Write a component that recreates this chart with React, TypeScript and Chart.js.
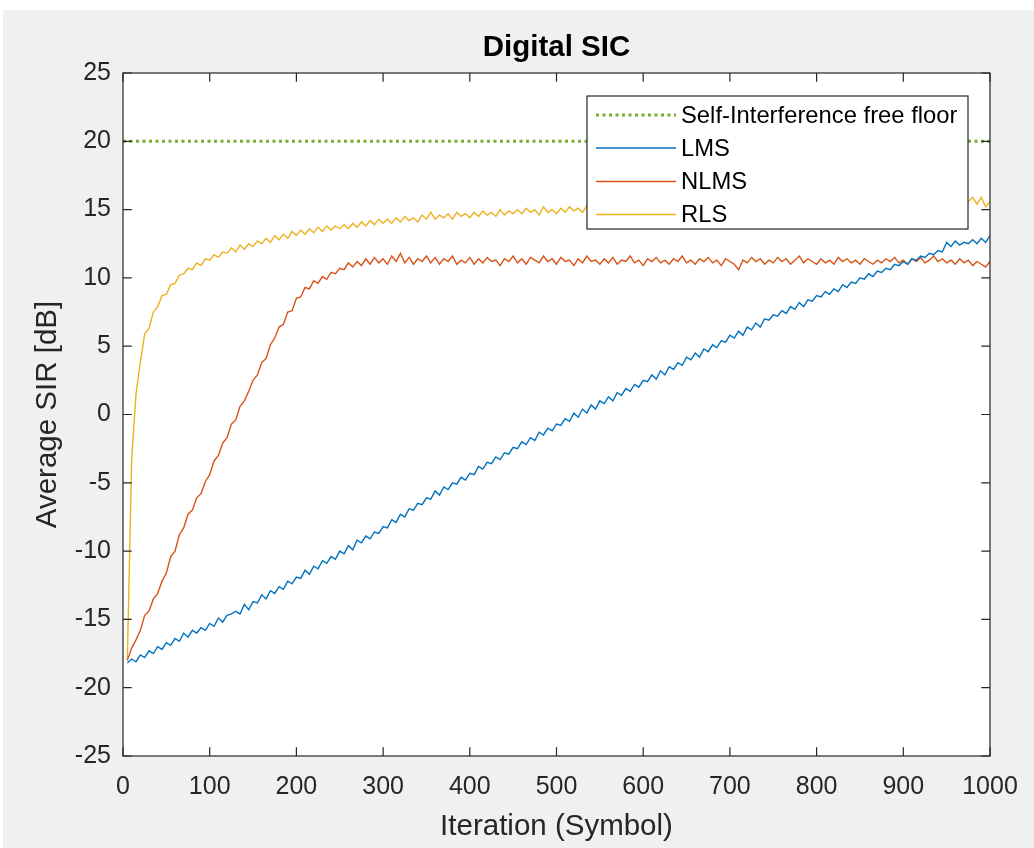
import React, { useEffect, useRef } from "react";
import { Chart, registerables } from "chart.js";

Chart.register(...registerables);

// ---- data ----
const ITER_STEP = 5; // samples every 5 iterations: 5, 10, ..., 1000
const FLOOR_DB = 20;

const LMS_DB = [
  -18.2, -17.9, -18.1, -17.6, -17.8, -17.3, -17.5, -17.0, -17.2, -16.7,
  -16.9, -16.4, -16.6, -16.0, -16.3, -15.8, -16.0, -15.6, -15.8, -15.3,
  -15.5, -14.9, -15.2, -14.7, -14.6, -14.4, -14.6, -13.9, -14.3, -13.7,
  -13.8, -13.2, -13.5, -12.9, -13.1, -12.6, -12.8, -12.2, -12.4, -11.9,
  -12.0, -11.4, -11.7, -11.1, -11.3, -10.7, -10.9, -10.4, -10.6, -10.0,
  -10.2, -9.6, -9.9, -9.2, -9.4, -8.9, -9.1, -8.6, -8.7, -8.2,
  -8.3, -7.7, -7.9, -7.3, -7.5, -6.9, -7.0, -6.5, -6.6, -6.1,
  -6.2, -5.6, -5.9, -5.3, -5.5, -5.0, -5.1, -4.6, -4.8, -4.3,
  -4.4, -3.8, -4.0, -3.5, -3.6, -3.1, -3.3, -2.8, -2.9, -2.4,
  -2.5, -2.0, -2.2, -1.7, -1.9, -1.3, -1.5, -1.0, -1.2, -0.7,
  -0.8, -0.3, -0.5, 0.1, -0.2, 0.4, 0.1, 0.7, 0.4, 1.0,
  0.8, 1.3, 1.0, 1.6, 1.4, 1.9, 1.7, 2.2, 2.0, 2.5,
  2.4, 2.9, 2.6, 3.2, 2.9, 3.5, 3.3, 3.8, 3.6, 4.2,
  4.0, 4.5, 4.2, 4.8, 4.6, 5.1, 4.9, 5.4, 5.3, 5.8,
  5.6, 6.1, 5.8, 6.4, 6.2, 6.7, 6.4, 7.0, 6.9, 7.3,
  7.2, 7.6, 7.4, 7.9, 7.7, 8.2, 7.9, 8.4, 8.3, 8.7,
  8.6, 9.0, 8.8, 9.2, 9.0, 9.5, 9.3, 9.7, 9.6, 10.0,
  9.9, 10.3, 10.1, 10.5, 10.4, 10.7, 10.6, 11.0, 10.9, 11.2,
  11.0, 11.4, 11.3, 11.6, 11.5, 11.8, 11.7, 12.0, 11.9, 12.6,
  12.3, 12.7, 12.4, 12.6, 12.5, 12.8, 12.5, 12.9, 12.6, 13.1,
];

const NLMS_DB = [
  -18.0, -17.1, -16.5, -15.8, -14.7, -14.4, -13.5, -13.1, -12.2, -11.6,
  -10.4, -10.0, -8.8, -8.3, -7.3, -7.0, -6.1, -5.8, -4.9, -4.4,
  -3.4, -3.0, -2.1, -1.7, -0.7, -0.4, 0.6, 1.0, 1.7, 2.5,
  2.9, 3.8, 4.1, 5.1, 5.6, 6.4, 6.6, 7.5, 7.6, 8.5,
  8.6, 9.3, 9.2, 9.8, 9.6, 10.1, 9.9, 10.4, 10.3, 10.7,
  10.6, 11.1, 10.8, 11.2, 10.9, 11.4, 11.0, 11.5, 11.1, 11.4,
  11.0, 11.6, 11.2, 11.8, 11.1, 11.5, 11.0, 11.4, 11.2, 11.6,
  11.1, 11.5, 11.0, 11.4, 11.2, 11.6, 11.0, 11.3, 11.1, 11.5,
  11.0, 11.4, 11.1, 11.5, 11.2, 11.3, 10.9, 11.4, 11.2, 11.6,
  11.1, 11.4, 11.0, 11.5, 11.3, 11.1, 11.6, 11.2, 11.4, 11.0,
  11.5, 11.2, 11.3, 10.9, 11.4, 11.1, 11.6, 11.2, 11.3, 11.0,
  11.4, 11.1, 11.5, 11.0, 11.3, 11.2, 11.6, 11.1, 11.3, 10.9,
  11.4, 11.2, 11.5, 11.1, 11.3, 11.0, 11.4, 11.2, 11.6, 11.1,
  11.3, 11.0, 11.4, 11.2, 11.5, 11.1, 11.3, 10.9, 11.4, 11.2,
  11.0, 10.6, 11.3, 11.1, 11.5, 11.2, 11.4, 11.0, 11.3, 11.1,
  11.5, 11.2, 11.4, 11.0, 11.3, 11.6, 11.1, 11.4, 11.2, 11.0,
  11.4, 11.1, 11.3, 11.0, 11.5, 11.2, 11.4, 11.1, 11.3, 11.0,
  11.4, 11.2, 11.0, 11.3, 11.1, 11.4, 11.2, 11.5, 11.1, 11.3,
  11.0, 11.4, 11.2, 11.5, 11.1, 11.3, 11.6, 11.2, 11.4, 11.1,
  11.3, 11.0, 11.4, 11.1, 11.3, 10.9, 11.2, 11.0, 10.8, 11.2,
];

const RLS_DB = [
  -18.0, -3.3, 1.5, 3.8, 5.9, 6.3, 7.5, 7.9, 8.7, 8.8,
  9.5, 9.6, 10.2, 10.3, 10.7, 10.6, 11.1, 10.9, 11.4, 11.3,
  11.7, 11.5, 11.9, 11.8, 12.2, 11.9, 12.4, 12.1, 12.5, 12.3,
  12.7, 12.5, 12.9, 12.6, 13.1, 12.8, 13.2, 12.9, 13.4, 13.1,
  13.5, 13.2, 13.6, 13.3, 13.7, 13.4, 13.8, 13.5, 13.8, 13.6,
  13.9, 13.6, 14.0, 13.7, 14.1, 13.8, 14.2, 13.9, 14.3, 14.0,
  14.3, 14.0, 14.4, 14.1, 14.5, 14.2, 14.4, 14.1, 14.6, 14.3,
  14.8, 14.3, 14.6, 14.4, 14.7, 14.3, 14.8, 14.5, 14.7, 14.4,
  14.8, 14.5, 14.9, 14.6, 14.8, 14.5, 15.0, 14.6, 14.9, 14.7,
  15.0, 14.7, 15.1, 14.8, 15.0, 14.6, 15.2, 14.8, 15.0, 14.7,
  15.1, 14.8, 15.2, 14.9, 15.1, 14.8, 15.3, 14.9, 15.1, 14.8,
  15.2, 14.9, 15.3, 15.0, 15.2, 14.9, 15.3, 15.0, 15.2, 15.0,
  15.3, 15.0, 15.3, 15.1, 15.4, 15.0, 15.3, 15.1, 15.4, 15.1,
  15.4, 15.1, 15.4, 15.2, 15.5, 15.1, 15.4, 15.2, 15.5, 15.2,
  15.5, 15.2, 15.5, 15.3, 15.6, 15.2, 15.5, 15.3, 15.6, 15.3,
  15.5, 15.3, 15.6, 15.3, 15.5, 15.2, 15.6, 15.3, 15.5, 15.3,
  15.6, 15.3, 15.5, 15.4, 15.7, 15.3, 15.6, 15.4, 15.6, 15.3,
  15.6, 15.4, 15.7, 15.3, 15.6, 15.4, 15.7, 15.4, 15.6, 15.3,
  15.7, 15.4, 15.6, 15.4, 15.7, 15.3, 15.6, 15.5, 15.7, 15.4,
  15.6, 15.4, 15.7, 15.5, 15.6, 15.9, 15.4, 15.9, 15.2, 15.6,
];

const X_TICKS = [0, 100, 200, 300, 400, 500, 600, 700, 800, 900, 1000];
const Y_TICKS = [-25, -20, -15, -10, -5, 0, 5, 10, 15, 20, 25];
const SERIES_LABELS = ["Self-Interference free floor", "LMS", "NLMS", "RLS"];
const SERIES_COLORS = ["#77AC30", "#0072BD", "#D95319", "#EDB120"];
const TITLE = "Digital SIC";
const X_TITLE = "Iteration (Symbol)";
const Y_TITLE = "Average SIR [dB]";

const FONT = "'Liberation Sans', Arial, Helvetica, sans-serif";
const AXIS_COLOR = "#262626";
const FLOOR_DASH = [3, 3.5];

const toPoints = (vals: number[]) =>
  vals.map((v, i) => ({ x: (i + 1) * ITER_STEP, y: v }));

const framePlugin = {
  id: "matlabFrame",
  beforeDraw(chart: any) {
    const { ctx, chartArea: a, width, height } = chart;
    ctx.save();
    ctx.fillStyle = "#ffffff";
    ctx.fillRect(0, 0, width, height);
    ctx.fillStyle = "#f0f0f0";
    ctx.fillRect(3, 10, width - 3, height - 10);
    ctx.fillStyle = "#ffffff";
    ctx.fillRect(a.left, a.top, a.right - a.left, a.bottom - a.top);
    ctx.restore();
  },
  afterDatasetsDraw(chart: any) {
    const { ctx, chartArea: a, scales } = chart;
    ctx.save();
    ctx.strokeStyle = AXIS_COLOR;
    ctx.lineWidth = 1.2;
    const tl = 8.7;
    ctx.beginPath();
    X_TICKS.forEach((v) => {
      const px = scales.x.getPixelForValue(v);
      ctx.moveTo(px, a.bottom);
      ctx.lineTo(px, a.bottom - tl);
      ctx.moveTo(px, a.top);
      ctx.lineTo(px, a.top + tl);
    });
    Y_TICKS.forEach((v) => {
      const py = scales.y.getPixelForValue(v);
      ctx.moveTo(a.left, py);
      ctx.lineTo(a.left + tl, py);
      ctx.moveTo(a.right, py);
      ctx.lineTo(a.right - tl, py);
    });
    ctx.stroke();
    ctx.strokeRect(a.left, a.top, a.right - a.left, a.bottom - a.top);

    // title
    ctx.fillStyle = "#000000";
    ctx.font = `bold 29.5px ${FONT}`;
    ctx.textAlign = "center";
    ctx.textBaseline = "middle";
    ctx.fillText(TITLE, (a.left + a.right) / 2, 48);
    ctx.restore();
  },
  afterDraw(chart: any) {
    const { ctx } = chart;
    const box = { left: 587, top: 96, right: 968, bottom: 229 };
    ctx.save();
    ctx.fillStyle = "#ffffff";
    ctx.fillRect(box.left, box.top, box.right - box.left, box.bottom - box.top);
    ctx.strokeStyle = AXIS_COLOR;
    ctx.lineWidth = 1.2;
    ctx.strokeRect(box.left, box.top, box.right - box.left, box.bottom - box.top);
    const rowY = [115, 148, 181.5, 214.5];
    SERIES_LABELS.forEach((label, i) => {
      const y = rowY[i];
      ctx.beginPath();
      ctx.strokeStyle = SERIES_COLORS[i];
      if (i === 0) {
        ctx.lineWidth = 3;
        ctx.setLineDash(FLOOR_DASH);
      } else {
        ctx.lineWidth = 1.3;
        ctx.setLineDash([]);
      }
      ctx.moveTo(596, y);
      ctx.lineTo(676, y);
      ctx.stroke();
      ctx.setLineDash([]);
      ctx.fillStyle = "#000000";
      ctx.font = `23.8px ${FONT}`;
      ctx.textAlign = "left";
      ctx.textBaseline = "middle";
      ctx.fillText(label, 681, y + 1);
    });
    ctx.restore();
  },
};

export default function App() {
  const canvasRef = useRef<HTMLCanvasElement | null>(null);

  useEffect(() => {
    document.body.style.margin = "0";
    const canvas = canvasRef.current;
    if (!canvas) return;
    const chart = new Chart(canvas, {
      type: "line",
      data: {
        datasets: [
          {
            label: SERIES_LABELS[0],
            data: [
              { x: 0, y: FLOOR_DB },
              { x: 1000, y: FLOOR_DB },
            ],
            borderColor: SERIES_COLORS[0],
            borderWidth: 3,
            borderDash: FLOOR_DASH,
            pointRadius: 0,
          },
          {
            label: SERIES_LABELS[1],
            data: toPoints(LMS_DB),
            borderColor: SERIES_COLORS[1],
            borderWidth: 1.4,
            pointRadius: 0,
          },
          {
            label: SERIES_LABELS[2],
            data: toPoints(NLMS_DB),
            borderColor: SERIES_COLORS[2],
            borderWidth: 1.4,
            pointRadius: 0,
          },
          {
            label: SERIES_LABELS[3],
            data: toPoints(RLS_DB),
            borderColor: SERIES_COLORS[3],
            borderWidth: 1.4,
            pointRadius: 0,
          },
        ],
      },
      options: {
        animation: false,
        responsive: false,
        devicePixelRatio: 1,
        events: [],
        layout: { padding: { left: 0, top: 73, right: 44, bottom: 0 } },
        elements: { line: { tension: 0 }, point: { radius: 0 } },
        plugins: {
          legend: { display: false },
          title: { display: false },
          tooltip: { enabled: false },
        },
        scales: {
          x: {
            type: "linear",
            min: 0,
            max: 1000,
            grid: { display: false, drawTicks: false },
            border: { display: false },
            afterBuildTicks: (s: any) => {
              s.ticks = X_TICKS.map((v) => ({ value: v }));
            },
            ticks: {
              autoSkip: false,
              maxRotation: 0,
              padding: 16,
              color: AXIS_COLOR,
              font: { family: FONT, size: 25 },
              callback: (v: any) => String(v),
            },
            title: {
              display: true,
              text: X_TITLE,
              color: AXIS_COLOR,
              font: { family: FONT, size: 29.5 },
              padding: { top: 0, bottom: 3.5 },
            },
            afterFit: (s: any) => {
              s.height = 92;
            },
          },
          y: {
            type: "linear",
            min: -25,
            max: 25,
            grid: { display: false, drawTicks: false },
            border: { display: false },
            afterBuildTicks: (s: any) => {
              s.ticks = Y_TICKS.map((v) => ({ value: v }));
            },
            ticks: {
              padding: 12,
              color: AXIS_COLOR,
              font: { family: FONT, size: 25 },
              callback: (v: any) => String(v),
            },
            title: {
              display: true,
              text: Y_TITLE,
              color: AXIS_COLOR,
              font: { family: FONT, size: 29.5 },
              padding: { top: 30.5, bottom: 0 },
            },
            afterFit: (s: any) => {
              s.width = 123;
            },
          },
        },
      },
      plugins: [framePlugin],
    });
    return () => chart.destroy();
  }, []);

  return (
    <div style={{ position: "fixed", left: 0, top: 0, width: 1034, height: 848 }}>
      <canvas ref={canvasRef} width={1034} height={848} style={{ display: "block" }} />
    </div>
  );
}
